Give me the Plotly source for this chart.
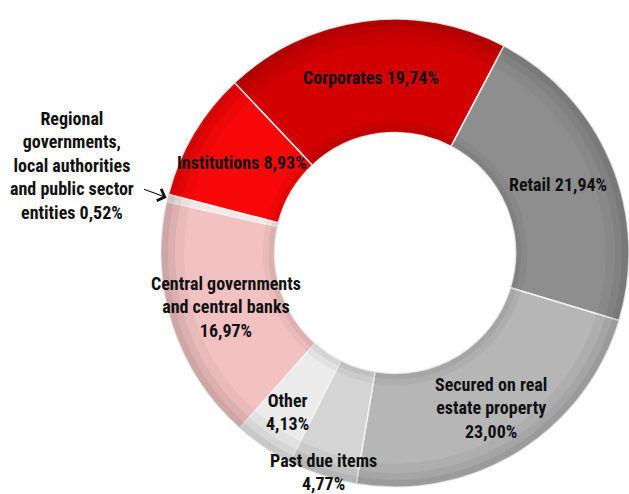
import math
import plotly.graph_objects as go

# ---- data ----
categories = [
    "Corporates",
    "Retail",
    "Secured on real estate property",
    "Past due items",
    "Other",
    "Central governments and central banks",
    "Regional governments, local authorities and public sector entities",
    "Institutions",
]
shares = [19.74, 21.94, 23.00, 4.77, 4.13, 16.97, 0.52, 8.93]
label_lines = [
    ["Corporates"],
    ["Retail"],
    ["Secured on real", "estate property"],
    ["Past due items"],
    ["Other"],
    ["Central governments", "and central banks"],
    ["Regional", "governments,", "local authorities", "and public sector", "entities"],
    ["Institutions"],
]
inline_pct = [True, True, False, False, False, False, True, True]

# ---- styles ----
colors = ["#d20000", "#8e8e8e", "#b6b6b6", "#d4d4d4", "#ebebeb", "#f2c2c2", "#f6e6e6", "#f80808"]
W, H = 629, 494
CX, CY, R = 395, 253, 234
HOLE = 0.515
ROT = -43.3
FONT = "Roboto Condensed, Roboto, Liberation Sans Narrow, sans-serif"
FSIZE = 18

def pct(v):
    return f"{v:.2f}".replace(".", ",") + "%"

texts = []
for lines, v, inl in zip(label_lines, shares, inline_pct):
    if inl:
        t = "<br>".join(lines[:-1] + [lines[-1] + " " + pct(v)])
    else:
        t = "<br>".join(lines + [pct(v)])
    texts.append("<b>" + t + "</b>")

def dom(radius):
    return dict(x=[(CX - radius) / W, (CX + radius) / W],
                y=[1 - (CY + radius) / H, 1 - (CY - radius) / H])

fig = go.Figure()
fig.add_trace(go.Pie(
    labels=categories,
    values=shares,
    sort=False,
    direction="clockwise",
    rotation=ROT,
    hole=HOLE,
    marker=dict(colors=colors, line=dict(color="#f2f2f2", width=1.5)),
    textinfo="none",
    domain=dom(R),
    showlegend=False,
))
# soft bevel shading near the outer and inner rims (stacked translucent rings)
for h, a in [(0.90, 0.04), (0.94, 0.05), (0.97, 0.06)]:
    fig.add_trace(go.Pie(
        labels=categories, values=shares, sort=False, direction="clockwise",
        rotation=ROT, hole=h,
        marker=dict(colors=[f"rgba(0,0,0,{a})"] * len(shares),
                    line=dict(color="rgba(0,0,0,0)", width=0)),
        textinfo="none", hoverinfo="skip", domain=dom(R), showlegend=False,
    ))
for extra, a in [(0.05, 0.04), (0.025, 0.05)]:
    r_in = R * (HOLE + extra)
    fig.add_trace(go.Pie(
        labels=categories, values=shares, sort=False, direction="clockwise",
        rotation=ROT, hole=(R * HOLE) / r_in,
        marker=dict(colors=[f"rgba(0,0,0,{a})"] * len(shares),
                    line=dict(color="rgba(0,0,0,0)", width=0)),
        textinfo="none", hoverinfo="skip", domain=dom(r_in), showlegend=False,
    ))

# label placement derived from slice mid-angles
total = sum(shares)
radial = [None] * len(shares)
radial[2] = 0.78
radial[3] = 0.985  # past due items label pushed outward
radial[4] = 0.82
annotations = []
start = ROT
for i, v in enumerate(shares):
    span = v / total * 360
    mid = math.radians(start + span / 2)
    start += span
    if i == 6:
        tipx = CX + (R + 1) * math.sin(mid)
        tipy = CY - (R + 1) * math.cos(mid)
        annotations.append(dict(
            x=tipx / W, y=1 - tipy / H, xref="paper", yref="paper",
            text="", showarrow=True, ax=-24, ay=-9,
            arrowhead=4, arrowsize=2.2, arrowwidth=1.1, arrowcolor="#111",
        ))
        annotations.append(dict(
            x=72 / W, y=1 - 166 / H, xref="paper", yref="paper",
            xanchor="center", yanchor="middle",
            text=texts[i], showarrow=False, align="center",
            font=dict(family=FONT, size=FSIZE, color="#111"),
        ))
        continue
    rf = radial[i] if radial[i] is not None else (1 + HOLE) / 2
    px = CX + rf * R * math.sin(mid)
    py = CY - rf * R * math.cos(mid)
    annotations.append(dict(
        x=px / W, y=1 - py / H, xref="paper", yref="paper",
        xanchor="center", yanchor="middle",
        text=texts[i], showarrow=False, align="center",
        font=dict(family=FONT, size=FSIZE, color="#111"),
    ))

fig.update_layout(
    width=W, height=H,
    margin=dict(l=0, r=0, t=0, b=0),
    paper_bgcolor="white", plot_bgcolor="white",
    annotations=annotations,
)
fig.write_html("out.html")
